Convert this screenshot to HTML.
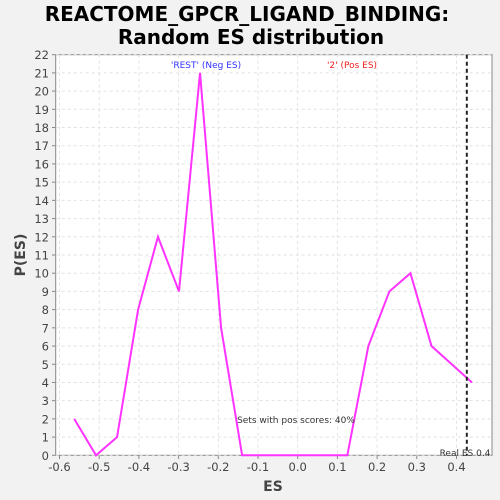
<!DOCTYPE html>
<html><head><meta charset="utf-8"><style>
html,body{margin:0;background:#f2f2f2;overflow:hidden;}
svg{display:block;}
svg text{font-family:"DejaVu Sans","Liberation Sans",sans-serif;}
</style></head><body>
<svg width="500" height="500" xmlns="http://www.w3.org/2000/svg">
<rect x="0" y="0" width="500" height="500" fill="#f2f2f2"/>
<text x="247" y="21" text-anchor="middle" font-size="20" font-weight="bold">REACTOME_GPCR_LIGAND_BINDING:</text>
<text x="251" y="44" text-anchor="middle" font-size="20" font-weight="bold">Random ES distribution</text>
<rect x="55.7" y="54.7" width="436.3" height="400.6" fill="#fff" stroke="#888"/>
<g id="grid"></g><g id="axes"></g><g id="series"></g>
<text x="206" y="68" text-anchor="middle" font-size="9" fill="#3333ff">'REST' (Neg ES)</text>
<text x="352" y="68" text-anchor="middle" font-size="9" fill="#ee2222">'2' (Pos ES)</text>
<text x="296" y="423" text-anchor="middle" font-size="9" fill="#333">Sets with pos scores: 40%</text>
<text x="465" y="456" text-anchor="middle" font-size="9" fill="#333">Real ES 0.4</text>
<text x="273" y="491" text-anchor="middle" font-size="14" font-weight="bold" fill="#444">ES</text>
<text x="25" y="255" text-anchor="middle" font-size="14" font-weight="bold" fill="#444" transform="rotate(-90 25 255)">P(ES)</text>
</svg>
<script>
const esValues=[-0.563,-0.508,-0.455,-0.402,-0.352,-0.299,-0.246,-0.193,-0.140,-0.087,-0.034,0.019,0.072,0.125,0.178,0.231,0.284,0.337,0.439];
const probValues=[2,0,1,8,12,9,21,7,0,0,0,0,0,0,6,9,10,6,4];
const xTicks=[-0.6,-0.5,-0.4,-0.3,-0.2,-0.1,0.0,0.1,0.2,0.3,0.4];
const yTicks=[0,1,2,3,4,5,6,7,8,9,10,11,12,13,14,15,16,17,18,19,20,21,22];
const realES=[0.426];
const NS="http://www.w3.org/2000/svg";
const X=v=>297.7+v*397;
const Y=v=>455.3-v*18.21;
function mk(t,a,p){const e=document.createElementNS(NS,t);for(const k in a)e.setAttribute(k,a[k]);p.appendChild(e);return e;}
const grid=document.getElementById('grid'),axes=document.getElementById('axes'),ser=document.getElementById('series');
xTicks.forEach(v=>{
 const g=mk('line',{x1:X(v),x2:X(v),y1:54.7,y2:455.3,stroke:'#e2e2e2','stroke-dasharray':'3,3'},grid);
 
 
 mk('line',{x1:X(v),x2:X(v),y1:455.3,y2:459,stroke:'#888'},axes);
 const t=mk('text',{x:X(v),y:471,'text-anchor':'middle','font-size':'11.5',fill:'#444'},axes);
 t.textContent=v.toFixed(1);
 
 
});
yTicks.forEach(v=>{
 const g=mk('line',{x1:55.7,x2:492,y1:Y(v),y2:Y(v),stroke:'#e2e2e2','stroke-dasharray':'3,3'},grid);
 
 
 mk('line',{x1:52,x2:55.7,y1:Y(v),y2:Y(v),stroke:'#888'},axes);
 const t=mk('text',{x:49,y:Y(v)+4.5,'text-anchor':'end','font-size':'11.5',fill:'#444'},axes);
 t.textContent=v;
 
 
});
const pl=mk('polyline',{points:esValues.map((v,i)=>X(v)+','+Y(probValues[i])).join(' '),fill:'none',stroke:'#ff33ff','stroke-width':'2'},ser);


realES.forEach(v=>{
 const l=mk('line',{x1:X(v),x2:X(v),y1:54.7,y2:455.3,stroke:'#222','stroke-width':'2','stroke-dasharray':'4,3'},ser);
 
 
});
</script>
</body></html>
